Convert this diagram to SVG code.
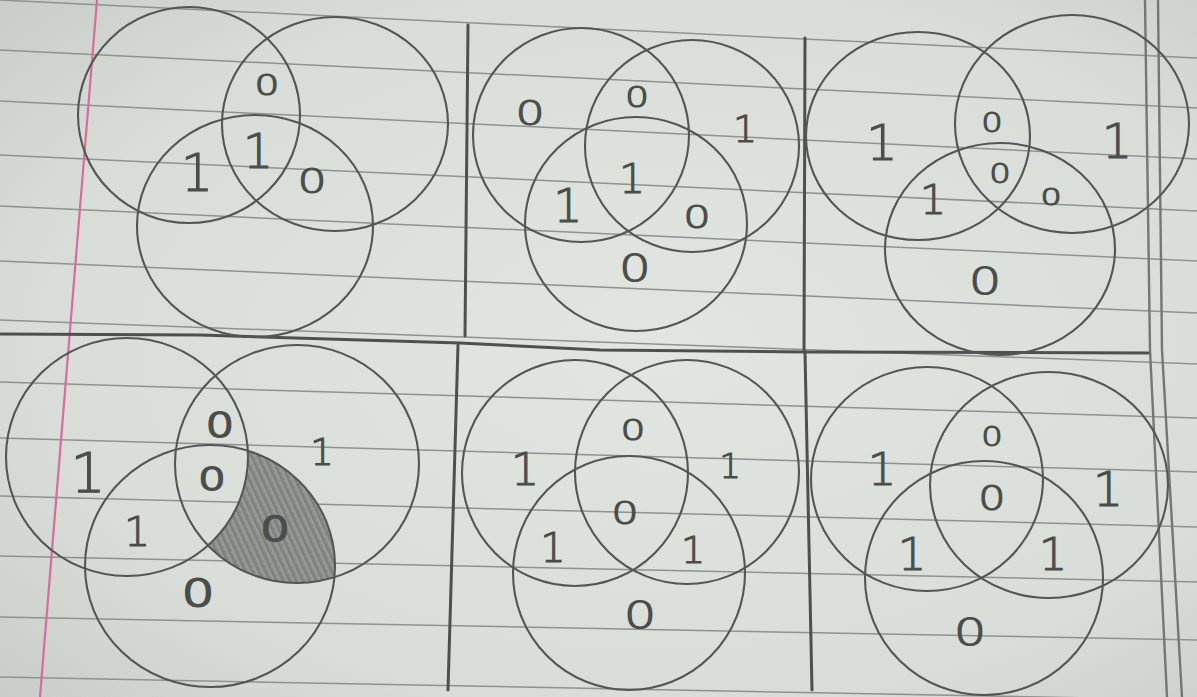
<svg xmlns="http://www.w3.org/2000/svg" width="1197" height="697" viewBox="0 0 1197 697">
<defs>
<radialGradient id="paper" cx="55%" cy="50%" r="75%">
<stop offset="0" stop-color="#e2e6e1"/>
<stop offset="0.7" stop-color="#d8ddd7"/>
<stop offset="1" stop-color="#c8cdc7"/>
</radialGradient>
<pattern id="pencil" width="6" height="6" patternUnits="userSpaceOnUse" patternTransform="rotate(65)">
<rect width="6" height="6" fill="#8f928f"/>
<line x1="0" y1="1" x2="6" y2="1" stroke="#757875" stroke-width="1.4"/>
<line x1="0" y1="3.5" x2="6" y2="3.5" stroke="#9c9f9c" stroke-width="1"/>
<line x1="0" y1="5" x2="3" y2="5" stroke="#7d807d" stroke-width="0.8"/>
</pattern>
<clipPath id="clipB4"><ellipse cx="297" cy="464" rx="122" ry="119"/></clipPath>
<mask id="maskShade">
<rect x="0" y="0" width="1197" height="697" fill="#000"/>
<ellipse cx="210" cy="566" rx="125" ry="121" fill="#fff"/>
<ellipse cx="127" cy="457" rx="121" ry="119" fill="#000"/>
</mask>
<style>
.rule{stroke:#8e938f;stroke-width:1.5;fill:none}
.div{stroke:#4d514e;stroke-width:3;fill:none;stroke-linecap:round}
.rm{stroke:#737874;stroke-width:2.4;fill:none}
.c{fill:none;stroke:#535754;stroke-width:2.1}
.t{font-family:"DejaVu Sans",sans-serif;font-weight:200;fill:#4a4e4b;stroke:#4a4e4b;stroke-width:1.1;text-anchor:middle}
</style>
</defs>
<rect x="0" y="0" width="1197" height="697" fill="url(#paper)"/>
<g id="ruled-lines">
<line class="rule" x1="0" y1="0" x2="1197" y2="58"/>
<line class="rule" x1="0" y1="50" x2="1197" y2="108"/>
<line class="rule" x1="0" y1="101" x2="1197" y2="159"/>
<line class="rule" x1="0" y1="155" x2="1197" y2="211"/>
<line class="rule" x1="0" y1="206" x2="1197" y2="261"/>
<line class="rule" x1="0" y1="261" x2="1197" y2="313"/>
<line class="rule" x1="0" y1="320" x2="1197" y2="364"/>
<line class="rule" x1="0" y1="382" x2="1197" y2="418"/>
<line class="rule" x1="0" y1="438" x2="1197" y2="472"/>
<line class="rule" x1="0" y1="496" x2="1197" y2="527"/>
<line class="rule" x1="0" y1="556" x2="1197" y2="582"/>
<line class="rule" x1="0" y1="617" x2="1197" y2="640"/>
<line class="rule" x1="0" y1="677" x2="1197" y2="700"/>
</g>
<line id="margin" x1="97" y1="0" x2="40" y2="697" stroke="#db6a9e" stroke-width="2.2"/>
<g id="right-margin">
<polyline class="rm" points="1145,0 1150,350 1167,697"/>
<polyline class="rm" points="1158,0 1162,350 1182,697"/>
</g>
<g id="grid">
<polyline class="div" points="0,334 200,335 460,343 600,350 806,352 1148,353"/>
<line class="div" x1="468" y1="25" x2="465" y2="336"/>
<line class="div" x1="458" y1="345" x2="448" y2="690"/>
<line class="div" x1="805" y1="38" x2="804" y2="352"/>
<line class="div" x1="805" y1="352" x2="812" y2="690"/>
</g>
<g id="venn-1">
<ellipse class="c" cx="189" cy="115" rx="111" ry="108"/>
<ellipse class="c" cx="335" cy="124" rx="113" ry="107"/>
<ellipse class="c" cx="255" cy="226" rx="118" ry="111"/>
<text class="t" transform="translate(267,95) scale(1.4,1)" font-size="28">0</text>
<text class="t" x="258" y="168" font-size="48">1</text>
<text class="t" x="197" y="191" font-size="51">1</text>
<text class="t" transform="translate(312,193) scale(1.35,1)" font-size="34">0</text>
</g>
<g id="venn-2">
<ellipse class="c" cx="581" cy="135" rx="108" ry="107"/>
<ellipse class="c" cx="692" cy="146" rx="107" ry="106"/>
<ellipse class="c" cx="636" cy="224" rx="111" ry="107"/>
<text class="t" transform="translate(530,125) scale(1.35,1)" font-size="34">0</text>
<text class="t" transform="translate(637,107) scale(1.35,1)" font-size="28">0</text>
<text class="t" x="745" y="142" font-size="38">1</text>
<text class="t" x="632" y="193" font-size="41">1</text>
<text class="t" x="568" y="222" font-size="46">1</text>
<text class="t" transform="translate(697,228) scale(1.35,1)" font-size="32">0</text>
<text class="t" transform="translate(635,281) scale(1.35,1)" font-size="37">0</text>
</g>
<g id="venn-3">
<ellipse class="c" cx="918" cy="136" rx="112" ry="104"/>
<ellipse class="c" cx="1072" cy="124" rx="117" ry="109"/>
<ellipse class="c" cx="1000" cy="249" rx="115" ry="106"/>
<text class="t" x="882" y="160" font-size="50">1</text>
<text class="t" transform="translate(992,132) scale(1.3,1)" font-size="26">0</text>
<text class="t" x="1117" y="158" font-size="48">1</text>
<text class="t" transform="translate(1000,183) scale(1.3,1)" font-size="26">0</text>
<text class="t" x="933" y="214" font-size="41">1</text>
<text class="t" transform="translate(1051,205) scale(1.45,1)" font-size="23">0</text>
<text class="t" transform="translate(985,294) scale(1.35,1)" font-size="38">0</text>
</g>
<g id="venn-4">
<rect x="160" y="340" width="280" height="260" fill="url(#pencil)" clip-path="url(#clipB4)" mask="url(#maskShade)"/>
<ellipse class="c" cx="127" cy="457" rx="121" ry="119"/>
<ellipse class="c" cx="297" cy="464" rx="122" ry="119"/>
<ellipse class="c" cx="210" cy="566" rx="125" ry="121"/>
<text class="t" transform="translate(220,437) scale(1.35,1)" font-size="33" style="stroke-width:2">0</text>
<text class="t" x="322" y="465" font-size="37">1</text>
<text class="t" x="88" y="492" font-size="56">1</text>
<text class="t" transform="translate(212,490) scale(1.35,1)" font-size="32" style="stroke-width:2">0</text>
<text class="t" x="137" y="546" font-size="41">1</text>
<text class="t" transform="translate(275,541) scale(1.35,1)" font-size="34" style="stroke-width:2.4;fill:#3e423f">0</text>
<text class="t" transform="translate(198,606) scale(1.35,1)" font-size="38" style="stroke-width:2">0</text>
</g>
<g id="venn-5">
<ellipse class="c" cx="575" cy="473" rx="113" ry="113"/>
<ellipse class="c" cx="687" cy="472" rx="112" ry="112"/>
<ellipse class="c" cx="629" cy="573" rx="116" ry="117"/>
<text class="t" transform="translate(633,440) scale(1.4,1)" font-size="28">0</text>
<text class="t" x="525" y="485" font-size="45">1</text>
<text class="t" x="730" y="478" font-size="34">1</text>
<text class="t" transform="translate(625,524) scale(1.35,1)" font-size="32">0</text>
<text class="t" x="553" y="562" font-size="40">1</text>
<text class="t" x="693" y="563" font-size="38">1</text>
<text class="t" transform="translate(640,628) scale(1.35,1)" font-size="38">0</text>
</g>
<g id="venn-6">
<ellipse class="c" cx="927" cy="479" rx="116" ry="112"/>
<ellipse class="c" cx="1049" cy="485" rx="119" ry="113"/>
<ellipse class="c" cx="984" cy="578" rx="119" ry="117"/>
<text class="t" transform="translate(992,446) scale(1.3,1)" font-size="26">0</text>
<text class="t" x="882" y="485" font-size="45">1</text>
<text class="t" x="1108" y="506" font-size="48">1</text>
<text class="t" transform="translate(992,510) scale(1.3,1)" font-size="33">0</text>
<text class="t" x="912" y="570" font-size="45">1</text>
<text class="t" x="1053" y="570" font-size="45">1</text>
<text class="t" transform="translate(970,645) scale(1.35,1)" font-size="38">0</text>
</g>
</svg>
